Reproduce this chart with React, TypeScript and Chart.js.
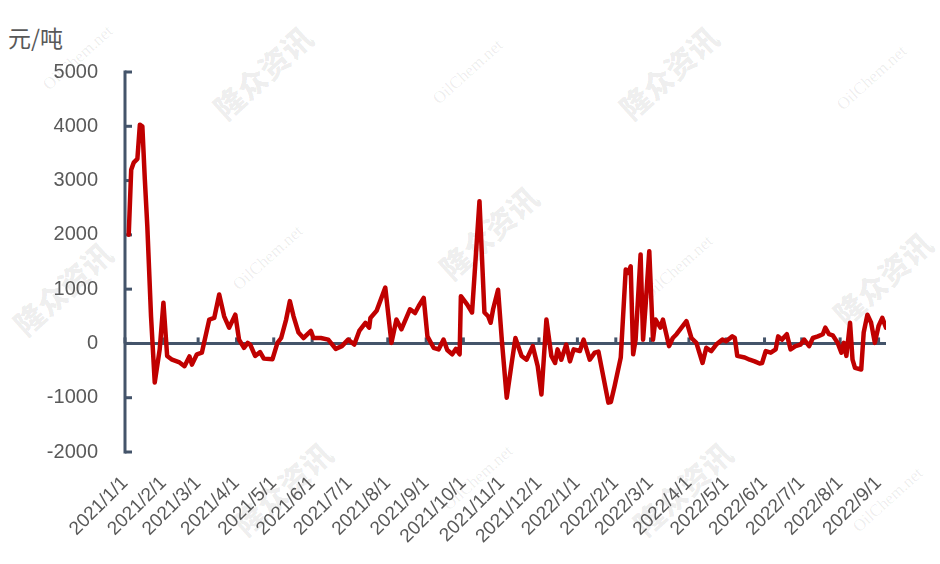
import React, { useEffect, useRef } from "react";
import { Chart, registerables } from "chart.js";

Chart.register(...registerables);

const UNIT_LABEL = "元/吨";

const DATES = [
  "2021/1/4", "2021/1/6", "2021/1/8", "2021/1/11", "2021/1/13", "2021/1/15", "2021/1/17", "2021/1/19",
  "2021/1/22", "2021/1/25", "2021/1/29", "2021/2/1", "2021/2/4", "2021/2/8", "2021/2/14", "2021/2/18",
  "2021/2/22", "2021/2/24", "2021/2/28", "2021/3/4", "2021/3/10", "2021/3/14", "2021/3/18", "2021/3/22",
  "2021/3/26", "2021/3/31", "2021/4/3", "2021/4/7", "2021/4/10", "2021/4/12", "2021/4/16", "2021/4/20",
  "2021/4/23", "2021/4/30", "2021/5/4", "2021/5/7", "2021/5/11", "2021/5/14", "2021/5/17", "2021/5/21",
  "2021/5/25", "2021/5/31", "2021/6/2", "2021/6/8", "2021/6/14", "2021/6/20", "2021/6/25", "2021/6/30",
  "2021/7/5", "2021/7/9", "2021/7/14", "2021/7/17", "2021/7/18", "2021/7/23", "2021/7/30", "2021/8/4",
  "2021/8/8", "2021/8/12", "2021/8/19", "2021/8/23", "2021/8/26", "2021/8/30", "2021/9/2", "2021/9/7",
  "2021/9/11", "2021/9/15", "2021/9/18", "2021/9/22", "2021/9/25", "2021/9/28", "2021/9/29", "2021/10/4",
  "2021/10/8", "2021/10/14", "2021/10/18", "2021/10/21", "2021/10/23", "2021/10/25", "2021/10/29", "2021/11/1",
  "2021/11/5", "2021/11/9", "2021/11/12", "2021/11/17", "2021/11/21", "2021/11/26", "2021/11/30", "2021/12/3",
  "2021/12/7", "2021/12/11", "2021/12/14", "2021/12/16", "2021/12/19", "2021/12/23", "2021/12/26", "2021/12/29",
  "2022/1/3", "2022/1/6", "2022/1/11", "2022/1/15", "2022/1/18", "2022/1/26", "2022/1/28", "2022/1/31",
  "2022/2/5", "2022/2/9", "2022/2/11", "2022/2/13", "2022/2/15", "2022/2/17", "2022/2/21", "2022/2/23",
  "2022/2/25", "2022/2/28", "2022/3/3", "2022/3/5", "2022/3/9", "2022/3/11", "2022/3/16", "2022/3/19",
  "2022/3/22", "2022/3/26", "2022/3/30", "2022/4/3", "2022/4/7", "2022/4/12", "2022/4/15", "2022/4/19",
  "2022/4/23", "2022/4/28", "2022/5/1", "2022/5/6", "2022/5/8", "2022/5/10", "2022/5/16", "2022/5/20",
  "2022/5/24", "2022/5/28", "2022/5/30", "2022/6/2", "2022/6/6", "2022/6/10", "2022/6/12", "2022/6/15",
  "2022/6/19", "2022/6/22", "2022/6/26", "2022/6/30", "2022/7/3", "2022/7/7", "2022/7/10", "2022/7/14",
  "2022/7/18", "2022/7/20", "2022/7/23", "2022/7/26", "2022/7/30", "2022/8/2", "2022/8/4", "2022/8/6",
  "2022/8/9", "2022/8/11", "2022/8/13", "2022/8/18", "2022/8/20", "2022/8/23", "2022/8/26", "2022/8/29",
  "2022/9/1", "2022/9/4", "2022/9/7",
];

const SPREAD = [
  2000, 3200, 3330, 3400, 4030, 4000, 3020, 2160,
  500, -720, -110, 750, -230, -300, -350, -420,
  -240, -390, -200, -170, 440, 470, 900, 500,
  290, 530, 70, -80, 10, -20, -230, -160,
  -280, -290, 10, 100, 440, 780, 500, 200,
  100, 230, 100, 100, 70, -100, -50, 70,
  -20, 230, 380, 290, 470, 600, 1030, 10,
  440, 260, 630, 560, 690, 840, 130, -80,
  -110, 70, -120, -200, -100, -200, 870, 720,
  570, 2620, 570, 500, 380, 630, 990, 70,
  -1000, -360, 100, -230, -300, -50, -420, -940,
  440, -230, -360, -110, -300, -20, -330, -110,
  -140, 70, -300, -170, -150, -1090, -1080, -790,
  -260, 1360, 1300, 1420, -200, 70, 1640, 70,
  690, 1700, 70, 440, 290, 440, -50, 100,
  170, 290, 410, 100, 10, -360, -80, -140,
  -20, 70, 40, 130, 100, -230, -260, -300,
  -330, -370, -360, -140, -170, -110, 130, 70,
  170, -110, -50, -20, 70, -50, 100, 130,
  170, 290, 170, 150, 10, -170, 10, -230,
  380, -300, -450, -480, 200, 530, 380, 10,
  320, 470, 290,
];

const MONTH_LABELS = [
  "2021/1/1", "2021/2/1", "2021/3/1", "2021/4/1", "2021/5/1", "2021/6/1", "2021/7/1",
  "2021/8/1", "2021/9/1", "2021/10/1", "2021/11/1", "2021/12/1", "2022/1/1", "2022/2/1",
  "2022/3/1", "2022/4/1", "2022/5/1", "2022/6/1", "2022/7/1", "2022/8/1", "2022/9/1",
];

const Y_MIN = -2000;
const Y_MAX = 5000;
const Y_STEP = 1000;

const LINE_COLOR = "#C00000";
const AXIS_COLOR = "#44546A";
const TEXT_COLOR = "#595959";
const FONT = "'Liberation Sans', Arial, sans-serif";

const ORIGIN = Date.UTC(2021, 0, 1);
function dayOffset(s: string): number {
  const [y, m, d] = s.split("/").map(Number);
  return Math.round((Date.UTC(y, m - 1, d) - ORIGIN) / 86400000);
}
const LABEL_BY_DAY: Record<number, string> = {};
MONTH_LABELS.forEach((l) => (LABEL_BY_DAY[dayOffset(l)] = l));

const WATERMARKS: { text: string; left: number; top: number; big: boolean }[] = [
  { text: "隆众资讯", left: 262, top: 72, big: true },
  { text: "隆众资讯", left: 668, top: 72, big: true },
  { text: "隆众资讯", left: 62, top: 288, big: true },
  { text: "隆众资讯", left: 488, top: 232, big: true },
  { text: "隆众资讯", left: 882, top: 278, big: true },
  { text: "隆众资讯", left: 282, top: 488, big: true },
  { text: "隆众资讯", left: 682, top: 488, big: true },
  { text: "OilChem.net", left: 78, top: 58, big: false },
  { text: "OilChem.net", left: 468, top: 72, big: false },
  { text: "OilChem.net", left: 872, top: 78, big: false },
  { text: "OilChem.net", left: 268, top: 258, big: false },
  { text: "OilChem.net", left: 678, top: 268, big: false },
  { text: "OilChem.net", left: 478, top: 478, big: false },
  { text: "OilChem.net", left: 888, top: 500, big: false },
];

const axisPlugin = {
  id: "customAxes",
  beforeDatasetsDraw(chart: any) {
    const { ctx, chartArea, scales } = chart;
    const x = scales.x;
    const y = scales.y;
    ctx.save();
    ctx.strokeStyle = AXIS_COLOR;
    ctx.lineWidth = 3;
    ctx.lineCap = "butt";
    const x0 = chartArea.left;
    ctx.beginPath();
    ctx.moveTo(x0, y.getPixelForValue(Y_MAX) - 1.5);
    ctx.lineTo(x0, y.getPixelForValue(Y_MIN) + 1.5);
    ctx.stroke();
    y.ticks.forEach((t: any) => {
      const py = y.getPixelForValue(t.value);
      ctx.beginPath();
      ctx.moveTo(x0, py);
      ctx.lineTo(x0 + 7, py);
      ctx.stroke();
    });
    const py0 = y.getPixelForValue(0);
    ctx.beginPath();
    ctx.moveTo(chartArea.left, py0);
    ctx.lineTo(chartArea.right, py0);
    ctx.stroke();
    x.ticks.forEach((t: any) => {
      const px = x.getPixelForValue(t.value);
      ctx.beginPath();
      ctx.moveTo(px, py0);
      ctx.lineTo(px, py0 - 6);
      ctx.stroke();
    });
    ctx.restore();
  },
};

export default function App() {
  const canvasRef = useRef<HTMLCanvasElement | null>(null);

  useEffect(() => {
    if (!canvasRef.current) return;
    const points = DATES.map((d, i) => ({ x: dayOffset(d), y: SPREAD[i] }));
    const xMax = dayOffset(DATES[DATES.length - 1]);
    const chart = new Chart(canvasRef.current, {
      type: "line",
      data: {
        datasets: [
          {
            data: points,
            borderColor: LINE_COLOR,
            borderWidth: 4.5,
            pointRadius: 0,
            tension: 0,
            borderJoinStyle: "round",
            borderCapStyle: "round",
            fill: false,
          },
        ],
      },
      options: {
        animation: false,
        responsive: true,
        maintainAspectRatio: false,
        layout: { padding: { top: 72, right: 54, left: 0, bottom: 0 } },
        plugins: {
          legend: { display: false },
          tooltip: { enabled: false },
          title: { display: false },
        },
        scales: {
          x: {
            type: "linear",
            min: 0,
            max: xMax,
            grid: { display: false, drawTicks: false },
            border: { display: false },
            afterBuildTicks: (scale: any) => {
              scale.ticks = MONTH_LABELS.map((l) => ({ value: dayOffset(l) }));
            },
            afterFit: (scale: any) => {
              scale.height = 112;
            },
            ticks: {
              autoSkip: false,
              minRotation: 45,
              maxRotation: 45,
              padding: 20,
              color: TEXT_COLOR,
              font: { family: FONT, size: 19 },
              callback: (v: any) => LABEL_BY_DAY[Math.round(Number(v))] ?? "",
            },
          },
          y: {
            min: Y_MIN,
            max: Y_MAX,
            grid: { display: false, drawTicks: false },
            border: { display: false },
            afterFit: (scale: any) => {
              scale.width = 125;
            },
            ticks: {
              stepSize: Y_STEP,
              padding: 27,
              color: TEXT_COLOR,
              font: { family: FONT, size: 20 },
              callback: (v: any) => String(v),
            },
          },
        },
      },
      plugins: [axisPlugin],
    });
    return () => chart.destroy();
  }, []);

  return (
    <div
      style={{
        position: "fixed",
        left: 0,
        top: 0,
        width: 940,
        height: 564,
        background: "#ffffff",
        overflow: "hidden",
      }}
    >
      {WATERMARKS.map((w, i) => (
        <div
          key={i}
          style={{
            position: "absolute",
            left: w.left,
            top: w.top,
            transform: "translate(-50%, -50%) rotate(-42deg)",
            whiteSpace: "nowrap",
            color: w.big ? "rgba(0,0,0,0.08)" : "rgba(0,0,0,0.08)",
            fontFamily: w.big ? "'Noto Sans CJK SC', sans-serif" : "'Liberation Serif', serif",
            fontWeight: w.big ? 900 : 400,
            fontSize: w.big ? 30 : 17,
            pointerEvents: "none",
          }}
        >
          {w.text}
        </div>
      ))}
      <div
        style={{
          position: "absolute",
          left: 8,
          top: 22,
          fontFamily: "'Noto Sans CJK SC', sans-serif",
          fontSize: 23,
          lineHeight: "30px",
          color: TEXT_COLOR,
        }}
      >
        {UNIT_LABEL}
      </div>
      <canvas ref={canvasRef} style={{ position: "absolute", left: 0, top: 0, width: 940, height: 564 }} />
    </div>
  );
}
